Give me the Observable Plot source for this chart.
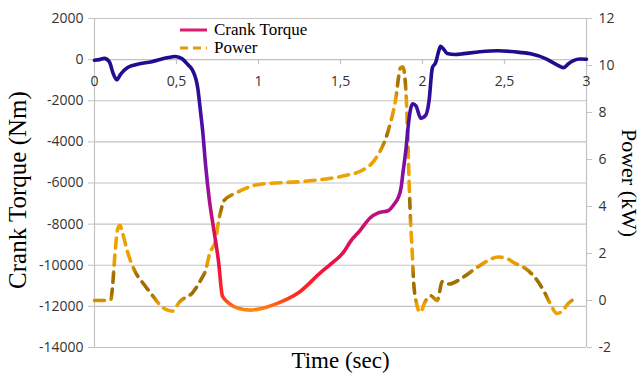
<!DOCTYPE html>
<html>
<head>
<meta charset="utf-8">
<script src="https://cdn.jsdelivr.net/npm/d3@7"></script>
<script src="https://cdn.jsdelivr.net/npm/@observablehq/plot@0.6"></script>
<style>
  html, body { margin: 0; padding: 0; background: #fff; }
  #wrap { position: relative; width: 641px; height: 378px; }
  #legend { position: absolute; left: 180px; top: 21px; font-family: "Liberation Serif", serif; font-size: 17px; color: #000; line-height: 18px; }
  #legend div { display: flex; align-items: center; height: 18px; }
  #legend svg { margin-right: 6px; }
</style>
</head>
<body>
<div id="wrap"><div id="legend"></div></div>
<script>
// ---- data ----
const torqueTime = [0.00,0.03,0.06,0.09,0.115,0.135,0.16,0.20,0.25,0.35,0.45,0.49,0.53,0.57,0.60,0.63,0.646,0.66,0.677,0.70,0.726,0.756,0.78,0.82,0.88,0.95,1.02,1.10,1.25,1.38,1.44,1.52,1.56,1.62,1.68,1.73,1.79,1.83,1.85,1.87,1.88,1.90,1.91,1.925,1.94,1.96,1.99,2.02,2.04,2.06,2.08,2.10,2.11,2.13,2.15,2.20,2.25,2.35,2.46,2.56,2.66,2.75,2.82,2.86,2.89,2.92,2.96,3.00];
const torqueNm = [-30,0,60,-100,-700,-980,-700,-400,-250,-100,100,150,60,-250,-550,-1400,-2500,-3500,-5100,-6800,-8200,-9800,-11500,-11850,-12100,-12180,-12100,-11900,-11300,-10350,-9950,-9350,-8850,-8300,-7700,-7450,-7350,-7000,-6750,-6200,-5550,-4300,-3450,-2500,-2150,-2250,-2850,-2700,-2000,-400,-150,450,650,500,300,250,290,380,430,380,280,50,-250,-390,-200,-50,30,20];

const powerTime = [0.00,0.08,0.10,0.11,0.125,0.14,0.155,0.17,0.20,0.25,0.30,0.355,0.40,0.45,0.475,0.52,0.60,0.646,0.68,0.70,0.74,0.75,0.77,0.79,0.87,1.01,1.26,1.44,1.55,1.62,1.71,1.79,1.835,1.866,1.88,1.895,1.91,1.915,1.927,1.937,1.945,1.96,1.985,2.02,2.05,2.09,2.12,2.16,2.25,2.31,2.40,2.46,2.51,2.56,2.62,2.70,2.74,2.78,2.82,2.86,2.88,2.92];
const powerKW = [0,0,0.05,0.6,2.0,3.0,3.2,2.9,2.1,1.2,0.7,0.2,-0.2,-0.42,-0.45,-0.05,0.35,0.85,1.35,1.95,2.6,3.1,3.8,4.25,4.6,4.95,5.06,5.2,5.35,5.5,6.0,7.2,8.5,9.9,9.95,9.3,7.0,5.8,3.4,2.1,0.9,0.0,-0.5,0.0,0.2,0.0,0.8,0.7,1.0,1.3,1.7,1.85,1.8,1.6,1.4,0.85,0.4,-0.15,-0.55,-0.4,-0.2,0.05];

const xTicks = [0, 0.5, 1, 1.5, 2, 2.5, 3];
const torqueTicks = [2000, 0, -2000, -4000, -6000, -8000, -10000, -12000, -14000];
const powerTicks = [12, 10, 8, 6, 4, 2, 0, -2];

// gradient styling (value -> colour)
const torqueStopValues = [700, -1500, -3500, -6000, -8000, -10000, -11500, -12200];
const torqueStopColors = ["#1c0c8a", "#2a0c96", "#5510a8", "#8e10a2", "#cc1070", "#f01040", "#ff2a20", "#ff8a10"];
const powerStopValues = [-0.6, -0.15, 0.3, 1.1, 1.6, 3.2, 3.9, 4.3, 4.7, 6.2, 7.0, 7.8, 8.5, 9.3, 10.0];
const powerStopColors = ["#f0a300","#eea000","#9e6c02","#a27003","#eca000","#eea200","#a06e02","#a47202","#eea200","#eea200","#a06e02","#e29a00","#eea200","#a06e02","#c88e00"];

// ---- helpers ----
const pMin = -2, pMax = 12, tMin = -14000, tMax = 2000;
const p2t = p => tMin + (p - pMin) * (tMax - tMin) / (pMax - pMin);
const t2p = t => pMin + (t - tMin) * (pMax - pMin) / (tMax - tMin);
const fmtX = d => String(d).replace(".", ",");

const torqueData = torqueTime.map((t, i) => ({t, v: torqueNm[i]}));
const powerData = powerTime.map((t, i) => ({t, p: powerKW[i]}));

function gradients(index, scales) {
  const y = scales.y;
  const g = d3.create("svg:g");
  const defs = g.append("defs");
  const add = (id, vals, cols) => {
    const y1 = y(vals[0]), y2 = y(vals[vals.length - 1]);
    const lg = defs.append("linearGradient").attr("id", id)
      .attr("gradientUnits", "userSpaceOnUse")
      .attr("x1", 0).attr("x2", 0).attr("y1", y1).attr("y2", y2);
    vals.forEach((v, i) => lg.append("stop")
      .attr("offset", (y(v) - y1) / (y2 - y1)).attr("stop-color", cols[i]));
  };
  add("torqueGrad", torqueStopValues, torqueStopColors);
  add("powerGrad", powerStopValues.map(p2t), powerStopColors);
  return g.node();
}

const grid = "#c3c3c3";
const chart = Plot.plot({
  width: 641, height: 378,
  marginLeft: 94, marginRight: 55, marginTop: 18, marginBottom: 31,
  x: {domain: [0, 3], axis: null},
  y: {domain: [tMin, tMax], axis: null},
  style: {fontFamily: "'Open Sans', sans-serif", fontSize: "14px", color: "#333", background: "#fff"},
  marks: [
    gradients,
    Plot.ruleY(torqueTicks, {stroke: grid, strokeWidth: 1.2}),
    Plot.ruleX([0, 3], {stroke: grid, strokeWidth: 1.2}),
    Plot.ruleX(xTicks, {y1: 0, y2: -250, stroke: grid, strokeWidth: 1.2}),
    Plot.text(xTicks, {x: d => d, y: 0, dy: 22, text: fmtX, fontSize: 14, fill: "#333"}),
    Plot.axisY({ticks: torqueTicks, tickFormat: d => String(d), tickSize: 6, tickPadding: 5, stroke: grid, fill: "#333", label: null, fontSize: 14}),
    Plot.axisY(powerTicks.map(p2t), {anchor: "right", tickFormat: v => String(Math.round(t2p(v))), tickSize: 5, tickPadding: 7, stroke: grid, fill: "#333", label: null, fontSize: 14}),
    Plot.line(powerData, {x: "t", y: d => p2t(d.p), stroke: "url(#powerGrad)", strokeWidth: 3.6, strokeDasharray: "10,7", curve: "monotone-x"}),
    Plot.line(torqueData, {x: "t", y: "v", stroke: "url(#torqueGrad)", strokeWidth: 3.6, curve: "monotone-x"}),
    Plot.text(["Crank Torque (Nm)"], {frameAnchor: "left", textAnchor: "middle", dx: -77, dy: 7, rotate: -90, fontFamily: "'Liberation Serif', serif", fontSize: 25, fill: "#000"}),
    Plot.text(["Time (sec)"], {frameAnchor: "bottom", dy: 20, fontFamily: "'Liberation Serif', serif", fontSize: 23, fill: "#000"}),
    Plot.text(["Power (kW)"], {frameAnchor: "right", textAnchor: "middle", dx: 43, rotate: 90, fontFamily: "'Liberation Serif', serif", fontSize: 22, fill: "#000"})
  ]
});
const wrap = document.getElementById("wrap");
wrap.insertBefore(chart, wrap.firstChild);

// legend
const legend = d3.select("#legend");
const items = [
  {label: "Crank Torque", color: "#de1a6c", dash: null},
  {label: "Power", color: "#e39a12", dash: "8,5"}
];
items.forEach(it => {
  const row = legend.append("div");
  const s = row.append("svg").attr("width", 28).attr("height", 16);
  s.append("line").attr("x1", 0).attr("x2", 27).attr("y1", 8).attr("y2", 8)
    .attr("stroke", it.color).attr("stroke-width", 3).attr("stroke-dasharray", it.dash);
  row.append("span").text(it.label);
});
</script>
</body>
</html>
